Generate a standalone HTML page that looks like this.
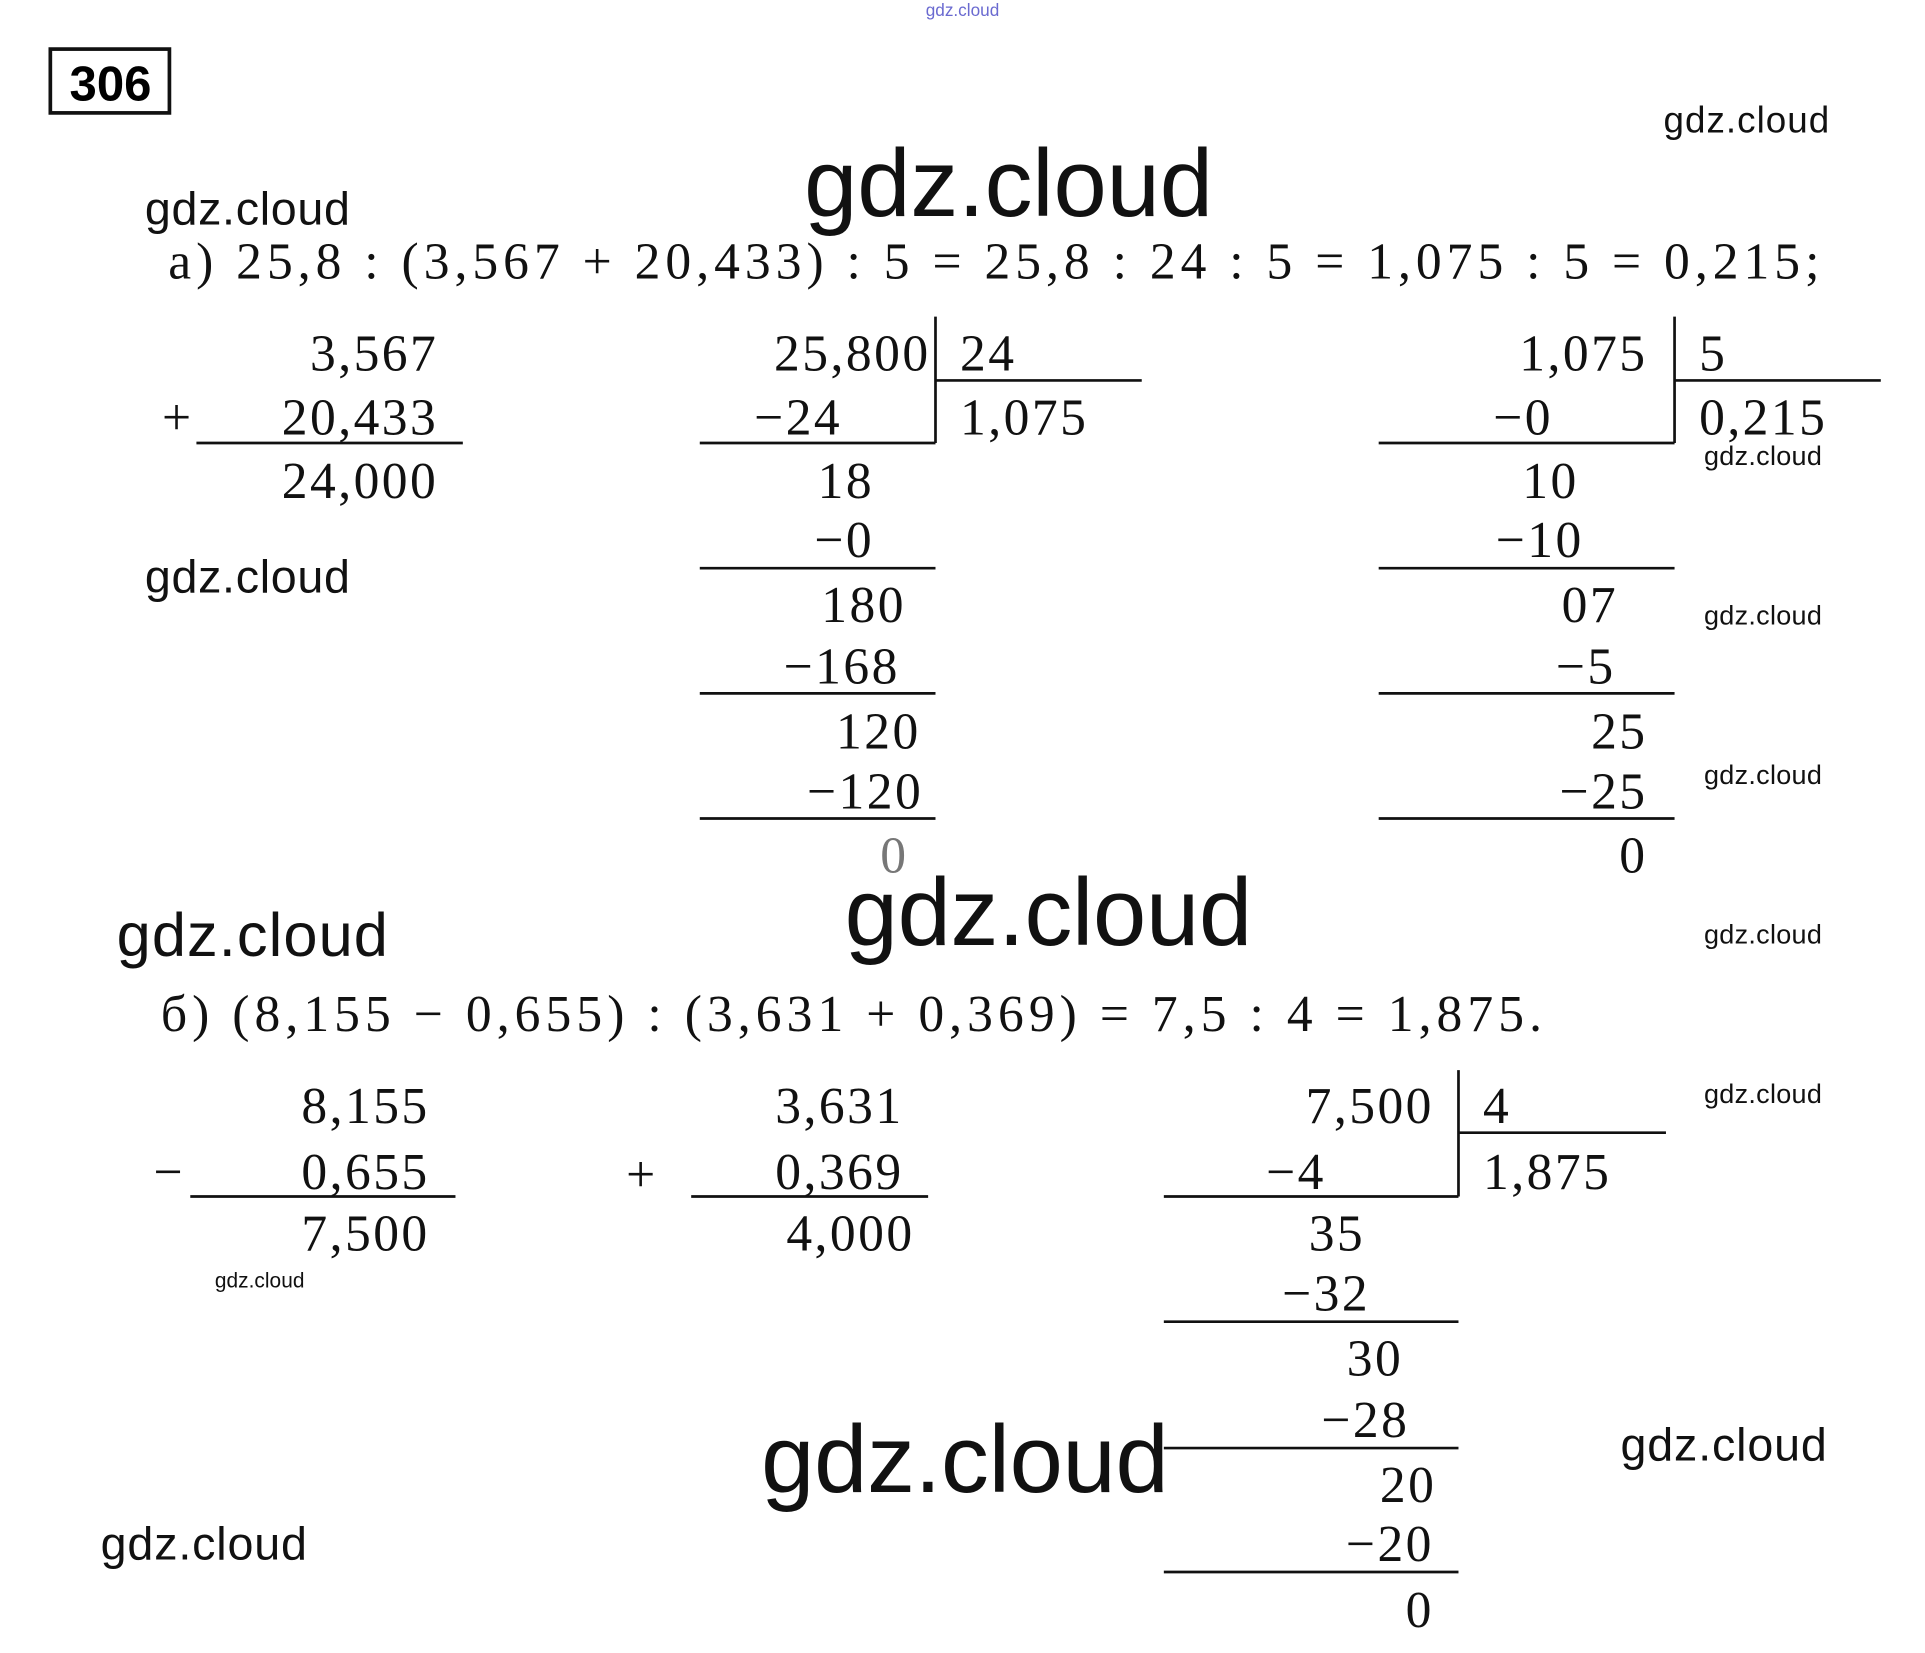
<!DOCTYPE html>
<html><head><meta charset="utf-8"><style>
html,body{margin:0;padding:0;background:#fff;}
svg{display:block;}
.m{font-family:"Liberation Serif",serif;font-size:42px;fill:#111;letter-spacing:2px;}
.w{font-family:"Liberation Sans",sans-serif;fill:#111;}
line{stroke:#111;stroke-width:2.2;}
</style></head><body>
<svg width="1925" height="1653" viewBox="0 0 1568 1347" preserveAspectRatio="none" xmlns="http://www.w3.org/2000/svg">
<rect x="41" y="40" width="97" height="52" fill="none" stroke="#111" stroke-width="3"/>
<text x="90" y="82" text-anchor="middle" style="font-family:'Liberation Sans',sans-serif;font-weight:bold;font-size:40px">306</text>
<text x="784" y="13" text-anchor="middle" class="w" style="font-size:14px;fill:#6a6ad0">gdz.cloud</text>
<text class="w" x="1355" y="108" style="font-size:30px" textLength="135">gdz.cloud</text>
<text class="w" x="655" y="176" style="font-size:78px" textLength="333">gdz.cloud</text>
<text class="w" x="118" y="183" style="font-size:38px" textLength="167">gdz.cloud</text>
<text class="w" x="118" y="483" style="font-size:38px" textLength="167">gdz.cloud</text>
<text class="w" x="688" y="770" style="font-size:78px" textLength="332">gdz.cloud</text>
<text class="w" x="95" y="779" style="font-size:50px" textLength="221">gdz.cloud</text>
<text class="w" x="620" y="1216" style="font-size:78px" textLength="332">gdz.cloud</text>
<text class="w" x="1320" y="1190" style="font-size:38px" textLength="168">gdz.cloud</text>
<text class="w" x="82" y="1271" style="font-size:38px" textLength="168">gdz.cloud</text>
<text class="w" x="1388" y="379" style="font-size:22px" textLength="96">gdz.cloud</text>
<text class="w" x="1388" y="509" style="font-size:22px" textLength="96">gdz.cloud</text>
<text class="w" x="1388" y="639" style="font-size:22px" textLength="96">gdz.cloud</text>
<text class="w" x="1388" y="769" style="font-size:22px" textLength="96">gdz.cloud</text>
<text class="w" x="1388" y="899" style="font-size:22px" textLength="96">gdz.cloud</text>
<text class="w" x="175" y="1049" style="font-size:17px" textLength="73">gdz.cloud</text>

<text class="m" x="137" y="227" textLength="1347">а) 25,8 : (3,567 + 20,433) : 5 = 25,8 : 24 : 5 = 1,075 : 5 = 0,215;</text>

<g class="m" text-anchor="end">
<text x="357" y="302">3,567</text>
<text x="357" y="354">20,433</text>
<text x="357" y="406">24,000</text>
<text x="758" y="302">25,800</text>
<text x="686" y="354">−24</text>
<text x="712" y="406">18</text>
<text x="712" y="454">−0</text>
<text x="738" y="507">180</text>
<text x="733" y="557">−168</text>
<text x="750" y="610">120</text>
<text x="752" y="659">−120</text>
<text x="740" y="711" style="fill:#777">0</text>
<text x="1342" y="302">1,075</text>
<text x="1265" y="354">−0</text>
<text x="1286" y="406">10</text>
<text x="1290" y="454">−10</text>
<text x="1318" y="507">07</text>
<text x="1316" y="557">−5</text>
<text x="1342" y="610">25</text>
<text x="1342" y="659">−25</text>
<text x="1342" y="711">0</text>
</g>
<g class="m">
<text x="132" y="354">+</text>
<text x="782" y="302">24</text>
<text x="782" y="354">1,075</text>
<text x="1384" y="302">5</text>
<text x="1384" y="354">0,215</text>
</g>
<line x1="160" y1="361" x2="377" y2="361"/>
<line x1="762" y1="258" x2="762" y2="361"/>
<line x1="762" y1="310" x2="930" y2="310"/>
<line x1="570" y1="361" x2="762" y2="361"/>
<line x1="570" y1="463" x2="762" y2="463"/>
<line x1="570" y1="565" x2="762" y2="565"/>
<line x1="570" y1="667" x2="762" y2="667"/>
<line x1="1364" y1="258" x2="1364" y2="361"/>
<line x1="1364" y1="310" x2="1532" y2="310"/>
<line x1="1123" y1="361" x2="1364" y2="361"/>
<line x1="1123" y1="463" x2="1364" y2="463"/>
<line x1="1123" y1="565" x2="1364" y2="565"/>
<line x1="1123" y1="667" x2="1364" y2="667"/>

<text class="m" x="131" y="840" textLength="1127">б) (8,155 − 0,655) : (3,631 + 0,369) = 7,5 : 4 = 1,875.</text>

<g class="m" text-anchor="end">
<text x="350" y="915">8,155</text>
<text x="350" y="969">0,655</text>
<text x="350" y="1019">7,500</text>
<text x="736" y="915">3,631</text>
<text x="736" y="969">0,369</text>
<text x="745" y="1019">4,000</text>
<text x="1168" y="915">7,500</text>
<text x="1080" y="969">−4</text>
<text x="1112" y="1019">35</text>
<text x="1116" y="1068">−32</text>
<text x="1143" y="1121">30</text>
<text x="1148" y="1171">−28</text>
<text x="1170" y="1224">20</text>
<text x="1168" y="1272">−20</text>
<text x="1168" y="1326">0</text>
</g>
<g class="m">
<text x="125" y="969">−</text>
<text x="510" y="971">+</text>
<text x="1208" y="915">4</text>
<text x="1208" y="969">1,875</text>
</g>
<line x1="155" y1="975" x2="371" y2="975"/>
<line x1="563" y1="975" x2="756" y2="975"/>
<line x1="1188" y1="872" x2="1188" y2="975"/>
<line x1="1188" y1="923" x2="1357" y2="923"/>
<line x1="948" y1="975" x2="1188" y2="975"/>
<line x1="948" y1="1077" x2="1188" y2="1077"/>
<line x1="948" y1="1180" x2="1188" y2="1180"/>
<line x1="948" y1="1281" x2="1188" y2="1281"/>
</svg>
</body></html>
